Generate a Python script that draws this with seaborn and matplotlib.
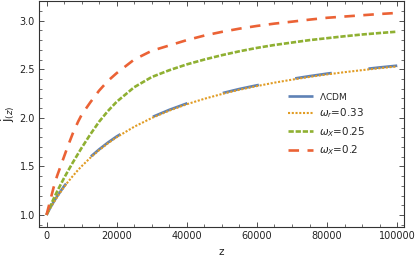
import numpy as np
import pandas as pd
import matplotlib
matplotlib.use('Agg')
import matplotlib.pyplot as plt
import seaborn as sns
from matplotlib.ticker import MultipleLocator, FuncFormatter, FormatStrFormatter

sns.set_style('ticks')
plt.rcParams['font.family'] = ['DejaVu Sans']

# values
z = [0, 1000, 2000, 3000, 4000, 5000, 6000, 7500, 9000, 10000, 12500, 15000,
     17500, 20000, 25000, 30000, 35000, 40000, 45000, 50000, 55000, 60000,
     65000, 70000, 75000, 80000, 85000, 90000, 95000, 100000]
j_lcdm = [1.0, 1.070, 1.132, 1.190, 1.243, 1.295, 1.343, 1.409, 1.471, 1.509,
          1.597, 1.675, 1.745, 1.808, 1.916, 2.006, 2.082, 2.148, 2.204, 2.253,
          2.297, 2.335, 2.370, 2.401, 2.429, 2.455, 2.478, 2.499, 2.519, 2.537]
j_wr033 = [1.0, 1.065, 1.126, 1.183, 1.236, 1.287, 1.335, 1.401, 1.463, 1.501,
           1.589, 1.667, 1.737, 1.800, 1.908, 1.998, 2.074, 2.140, 2.196, 2.245,
           2.289, 2.327, 2.362, 2.393, 2.421, 2.447, 2.470, 2.491, 2.511, 2.529]
j_wx025 = [1.0, 1.085, 1.165, 1.24, 1.31, 1.38, 1.445, 1.54, 1.63, 1.69,
           1.83, 1.96, 2.07, 2.165, 2.315, 2.42, 2.49, 2.55, 2.60, 2.645,
           2.685, 2.72, 2.75, 2.775, 2.80, 2.82, 2.84, 2.858, 2.873, 2.887]
j_wx02 = [1.0, 1.14, 1.28, 1.40, 1.50, 1.60, 1.70, 1.84, 1.96, 2.03,
          2.16, 2.28, 2.38, 2.46, 2.60, 2.69, 2.745, 2.80, 2.847, 2.885,
          2.918, 2.946, 2.97, 2.99, 3.011, 3.03, 3.043, 3.056, 3.069, 3.08]

fig = plt.figure(figsize=(4.15, 2.62), dpi=100)
ax = fig.add_axes([0.094, 0.134, 0.880, 0.863])

sns.lineplot(x=z, y=j_lcdm, ax=ax, color='#5E81B5', lw=1.9,
             ls=(0, (14, 14)), label=r'$\Lambda$CDM')
sns.lineplot(x=z, y=j_wr033, ax=ax, color='#E19C24', lw=1.5,
             ls=(0, (1, 0.8)), label=r'$\omega_r$=0.33')
sns.lineplot(x=z, y=j_wx025, ax=ax, color='#8FB032', lw=1.9,
             ls=(0, (2, 0.7)), label=r'$\omega_X$=0.25')
sns.lineplot(x=z, y=j_wx02, ax=ax, color='#EB6235', lw=1.9,
             ls=(0, (4, 3.2)), label=r'$\omega_X$=0.2')

ax.set_xlim(-2140, 102000)
ax.set_ylim(0.877, 3.205)
ax.xaxis.set_major_locator(MultipleLocator(20000))
ax.xaxis.set_minor_locator(MultipleLocator(5000))
ax.yaxis.set_major_locator(MultipleLocator(0.5))
ax.yaxis.set_minor_locator(MultipleLocator(0.1))
ax.xaxis.set_major_formatter(FuncFormatter(lambda v, p: f'{int(v)}'))
ax.yaxis.set_major_formatter(FormatStrFormatter('%.1f'))

ax.tick_params(which='both', direction='in', top=True, right=True,
               labelsize=7, colors='#333333', labelcolor='#222222')
ax.tick_params(which='major', length=3.5, width=0.6, pad=3)
ax.tick_params(which='minor', length=2, width=0.5)
for s in ax.spines.values():
    s.set_linewidth(0.8)
    s.set_color('#333333')

ax.set_xlabel('z', fontsize=7.5, color='#222222', labelpad=4)
ax.set_ylabel(r'$\mathrm{j}_{(z)}$', fontsize=9, color='#222222', labelpad=2)

leg = ax.legend(loc='upper left', bbox_to_anchor=(0.67, 0.62), frameon=False,
                fontsize=7.5, handlelength=2.4, handletextpad=0.6,
                labelspacing=0.45, borderaxespad=0)
leg.get_texts()[0].set_fontsize(6.5)

fig.savefig('out.png', dpi=100)
